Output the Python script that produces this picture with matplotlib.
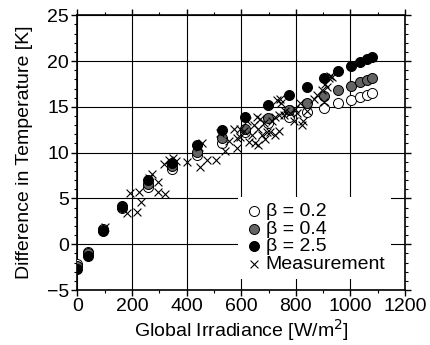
import matplotlib
matplotlib.use("Agg")
import matplotlib.pyplot as plt
from matplotlib.ticker import MultipleLocator

plt.rcParams['font.family'] = ['Liberation Sans', 'DejaVu Sans']
plt.rcParams['font.size'] = 14

# Model results (shared irradiance positions)
model_x = [0, 37, 92, 165, 257, 346, 437, 529, 615, 697, 774, 841, 904, 954, 1002, 1036, 1061, 1079]
beta_02 = [-2.2, -0.8, 1.7, 4.0, 6.3, 8.2, 9.7, 11.0, 12.2, 13.2, 13.9, 14.4, 14.9, 15.4, 15.8, 16.1, 16.3, 16.5]
beta_04 = [-2.4, -1.0, 1.6, 4.1, 6.6, 8.5, 10.1, 11.6, 12.6, 13.8, 14.7, 15.4, 16.2, 16.8, 17.3, 17.7, 17.9, 18.1]
beta_25 = [-2.7, -1.3, 1.5, 4.2, 7.0, 8.9, 10.8, 12.5, 13.9, 15.2, 16.3, 17.2, 18.2, 18.9, 19.5, 19.9, 20.2, 20.4]

# Measurements
meas_x = [102, 181, 220, 232, 193, 224, 297, 319, 297, 273, 262, 318, 337, 350, 362, 401, 450, 474,
          508, 456, 445, 521, 572, 584, 584, 596, 596, 627, 639, 645, 651, 658, 663, 663, 670, 676,
          688, 682, 694, 706, 713, 725, 725, 731, 737, 737, 743, 745, 755, 762, 780, 792, 798, 804,
          816, 822, 828, 840, 865, 877, 896, 902, 908, 914, 920, 926, 932, 540, 555, 610, 622]
meas_y = [1.9, 3.4, 3.5, 4.6, 5.6, 5.7, 5.7, 5.5, 6.8, 7.7, 7.2, 8.8, 9.2, 9.4, 9.1, 9.0, 8.4, 9.2,
          9.2, 11.1, 10.6, 12.1, 12.6, 10.5, 11.6, 12.6, 11.7, 11.2, 11.9, 13.0, 11.0, 13.9, 12.6, 10.8, 13.7, 11.9,
          11.5, 13.2, 12.3, 12.3, 13.4, 11.9, 13.9, 15.7, 12.4, 14.1, 15.9, 15.4, 14.1, 14.6, 14.3, 13.4, 14.8, 14.3,
          15.4, 13.0, 13.4, 14.6, 15.9, 16.3, 16.8, 15.5, 17.5, 17.2, 18.1, 18.4, 18.3, 10.2, 11.3, 12.4, 13.5]

labels = ['β = 0.2', 'β = 0.4', 'β = 2.5', 'Measurement']

fig = plt.figure(figsize=(4.3, 3.45), dpi=100)
ax = fig.add_axes([0.180, 0.159, 0.762, 0.797])

ms = 52
ax.scatter(model_x, beta_02, s=ms, facecolor='white', edgecolor='black', linewidth=0.7, zorder=3, label=labels[0])
ax.scatter(model_x, beta_04, s=ms, facecolor='#646464', edgecolor='black', linewidth=0.7, zorder=3, label=labels[1])
ax.scatter(model_x, beta_25, s=ms, facecolor='black', edgecolor='black', linewidth=0.7, zorder=3, label=labels[2])
ax.scatter(meas_x, meas_y, s=32, marker='x', color='black', linewidth=0.8, zorder=4, label=labels[3])

ax.set_xlim(0, 1200)
ax.set_ylim(-5, 25)
ax.xaxis.set_major_locator(MultipleLocator(200))
ax.xaxis.set_minor_locator(MultipleLocator(100))
ax.yaxis.set_major_locator(MultipleLocator(5))
ax.yaxis.set_minor_locator(MultipleLocator(1))
ax.tick_params(which='both', direction='out', top=True, right=True, labeltop=False, labelright=False)
ax.tick_params(which='major', length=4, width=1, labelsize=14, pad=2)
ax.tick_params(which='minor', length=2.2, width=0.8)
ax.grid(True, which='major', color='black', linewidth=0.8)
ax.set_axisbelow(True)
for s in ax.spines.values():
    s.set_linewidth(1.2)

ax.set_xlabel('Global Irradiance [W/m$^2$]', fontsize=14, labelpad=1)
ax.set_ylabel('Difference in Temperature [K]', fontsize=14, labelpad=10)

leg = ax.legend(loc='lower right', bbox_to_anchor=(0.958, 0.041), borderaxespad=0, frameon=True,
                fancybox=False, edgecolor='none', facecolor='white', framealpha=1,
                fontsize=14, handletextpad=0.1, labelspacing=0.0, borderpad=0.3,
                handlelength=1.0, markerscale=1.0)

fig.savefig('out.png', dpi=100)
